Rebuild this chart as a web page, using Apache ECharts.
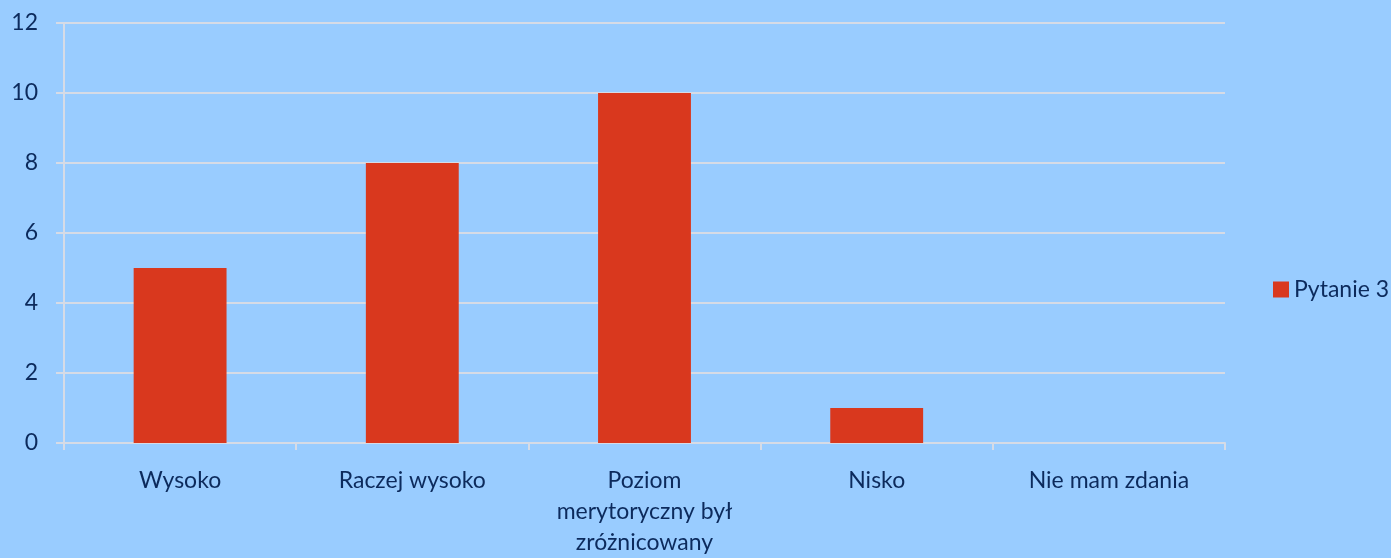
<!DOCTYPE html>
<html>
<head>
<meta charset="utf-8">
<script src="https://cdn.jsdelivr.net/npm/echarts@6/dist/echarts.min.js"></script>
<style>
  html, body { margin: 0; padding: 0; background: #99ccff; }
  #chart { width: 1391px; height: 558px; }
</style>
</head>
<body>
<div id="chart"></div>
<script>
// dane wykresu
var categories = ["Wysoko", "Raczej wysoko", "Poziom\nmerytoryczny był\nzróżnicowany", "Nisko", "Nie mam zdania"];
var seriesName = "Pytanie 3";
var values = [5, 8, 10, 1, 0];
var yTicks = [0, 2, 4, 6, 8, 10, 12];

var textColor = "#0c2a5c";
var lineColor = "#d6dbe6";
var font = "Lato, 'Open Sans', sans-serif";

var chart = echarts.init(document.getElementById("chart"));
chart.setOption({
  backgroundColor: "#99ccff",
  animation: false,
  textStyle: { fontFamily: font },
  legend: {
    data: [seriesName],
    orient: "vertical",
    left: 1268,
    top: 273,
    icon: "rect",
    itemWidth: 16,
    itemHeight: 16,
    itemGap: 6,
    textStyle: { color: textColor, fontSize: 23, fontFamily: font }
  },
  grid: { left: 64, right: 166, top: 23, bottom: 112, containLabel: false },
  xAxis: {
    type: "category",
    data: categories,
    axisLine: { lineStyle: { color: lineColor, width: 2 } },
    axisTick: { show: true, length: 7, lineStyle: { color: lineColor, width: 2 } },
    axisLabel: {
      color: textColor,
      fontSize: 23,
      lineHeight: 31,
      margin: 22,
      interval: 0,
      fontFamily: font
    }
  },
  yAxis: {
    type: "value",
    min: yTicks[0],
    max: yTicks[yTicks.length - 1],
    interval: 2,
    axisLine: { show: true, lineStyle: { color: lineColor, width: 2 } },
    axisTick: { show: true, length: 8, lineStyle: { color: lineColor, width: 2 } },
    splitLine: { show: true, lineStyle: { color: lineColor, width: 2 } },
    axisLabel: { color: textColor, fontSize: 23, margin: 26, fontFamily: font }
  },
  series: [
    {
      name: seriesName,
      type: "bar",
      data: values,
      barWidth: "40%",
      itemStyle: { color: "#d9381e" }
    }
  ]
});
</script>
</body>
</html>
